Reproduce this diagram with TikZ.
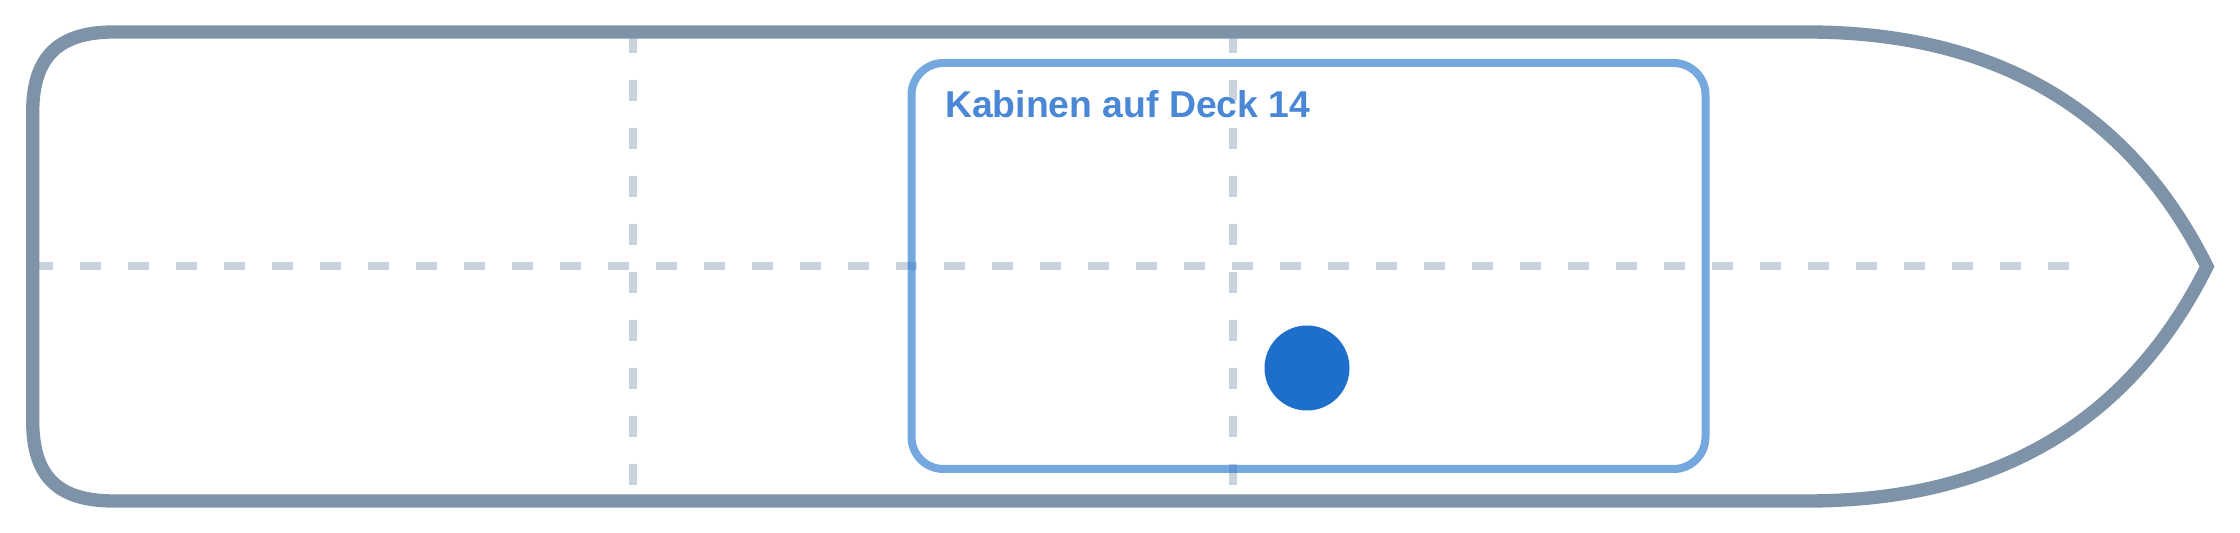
\documentclass[tikz,border=0pt]{standalone}
\usepackage{fontspec}
\setmainfont{Liberation Sans}
\definecolor{hullc}{HTML}{7F93A8}
\definecolor{gridc}{HTML}{C9D3DE}
\definecolor{cabinc}{HTML}{1C6ECC}
\definecolor{dotc}{HTML}{1E6FCC}
\definecolor{labelc}{HTML}{4A87D6}
\begin{document}
\begin{tikzpicture}[x=0.5pt,y=-0.5pt,
  gridline/.style={draw=gridc, line width=4pt, dash pattern=on 10.667pt off 13.333pt},
  hullline/.style={draw=hullc, line width=6.667pt, line join=miter, miter limit=10},
  cabinbox/.style={draw=cabinc, draw opacity=0.6, line width=4pt, rounded corners=16pt},
  labeltext/.style={anchor=base west, inner sep=0pt, text=labelc, font=\fontsize{18.67pt}{20pt}\selectfont\bfseries},
  marker/.style={circle, fill=dotc, minimum size=42.5pt, inner sep=0pt}]
\fill[white] (0,0) rectangle (2240,533);
\useasboundingbox (0,0) rectangle (2240,533);
% grid
\coordinate (hl1) at (32,266.5);
\coordinate (hl2) at (2069,266.5);
\coordinate (va1) at (633.3,32);
\coordinate (va2) at (633.3,501);
\coordinate (vb1) at (1233.3,32);
\coordinate (vb2) at (1233.3,501);
\draw[gridline] (hl1) -- (hl2);
\draw[gridline] (va1) -- (va2);
\draw[gridline] (vb1) -- (vb2);
% hull (quadratic curves written as cubics)
\draw[hullline] (114,32) -- (1807,32)
  .. controls (1995.7,32) and (2129,110.2) .. (2207,266.5)
  .. controls (2129,422.8) and (1995.7,501) .. (1807,501)
  -- (114,501) .. controls (59.6,501) and (32.7,478.3) .. (32.7,421)
  -- (32.7,112) .. controls (32.7,55.7) and (59.6,32) .. (114,32) -- cycle;
% cabin area
\draw[cabinbox] (911.5,63) rectangle (1705.5,469);
\node[labeltext] (title) at (944.7,117.3) {Kabinen auf Deck 14};
\node[marker] (dot) at (1307,368) {};
\end{tikzpicture}
\end{document}
